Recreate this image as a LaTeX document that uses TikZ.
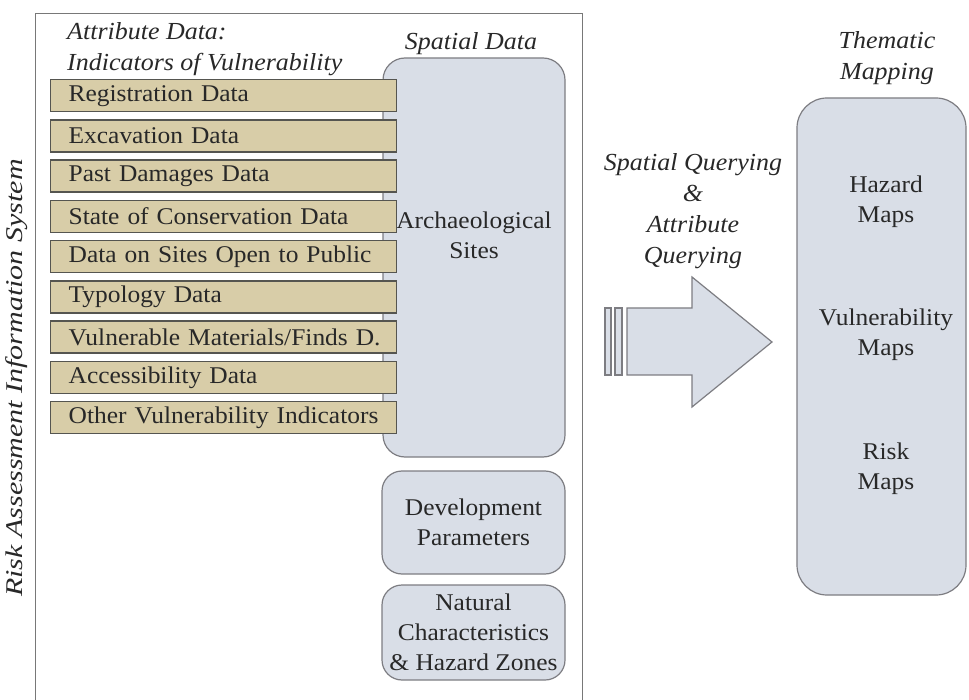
\documentclass[tikz,border=0pt]{standalone}
\usepackage{fontspec}
\setmainfont{Liberation Serif}[FakeStretch=1.06]
\newfontfamily\vertfont{Liberation Serif}[FakeStretch=1.25]
\definecolor{tanfill}{RGB}{216,205,168}
\definecolor{tanline}{RGB}{85,85,80}
\definecolor{bluefill}{RGB}{217,222,231}
\definecolor{blueline}{RGB}{125,125,130}
\definecolor{frameline}{RGB}{120,120,120}
\definecolor{txt}{RGB}{40,40,40}
\tikzset{
  attr/.style={draw=tanline, line width=1.3pt, fill=tanfill, anchor=north west,
    minimum height=32pt, text width=336pt, inner xsep=5pt, inner ysep=0pt,
    align=left, text=txt, font=\fontsize{24}{28}\selectfont},
  spbox/.style={draw=blueline, line width=1.2pt, fill=bluefill, rounded corners=22pt,
    inner sep=0pt},
  lbl/.style={text=txt, align=center, font=\fontsize{24}{30}\selectfont, inner sep=0pt},
  ilbl/.style={text=txt, align=center, font=\itshape\fontsize{24.5}{31}\selectfont, inner sep=0pt},
}
\begin{document}
\begin{tikzpicture}[x=1pt,y=-1pt]
\useasboundingbox (0,0) rectangle (969,700);
\begin{scope}
\clip (0,0) rectangle (969,700);
\node[draw=frameline, line width=1.2pt, minimum width=547pt, minimum height=700pt, anchor=north west, inner sep=0pt] (frame) at (35,13) {};
\end{scope}
\node[text=txt, inner sep=0pt, font=\vertfont\itshape\fontsize{24}{30}\selectfont, rotate=90] (ris) at (17,378) {Risk Assessment Information System};
\node[ilbl, align=left, anchor=north west] (attrtitle) at (67,22) {Attribute Data:\\Indicators of Vulnerability};
\node[ilbl] (spt) at (471,44) {Spatial Data};
% spatial boxes
\node[spbox, minimum width=182pt, minimum height=399pt] (arch) at (474,257.5) {};
\node[lbl] (archt) at (474,235) {Archaeological\\Sites};
\node[spbox, rounded corners=20pt, minimum width=183pt, minimum height=103pt, lbl] (dev) at (473.5,522.5) {Development\\Parameters};
\node[spbox, rounded corners=20pt, minimum width=183pt, minimum height=95pt, lbl] (nat) at (473.5,632.5) {Natural\\Characteristics\\\& Hazard Zones};
% attribute rows
\foreach \t [count=\i from 0] in {Registration Data, Excavation Data, Past Damages Data, State of Conservation Data, Data on Sites\ Open to Public, Typology\ Data, Vulnerable Materials/Finds D., Accessibility\ Data, Other Vulnerability\ Indicators}{
  \node[attr] (a\i) at (50,{79+40.25*\i}) {\hspace*{13pt}\mbox{\t}};
}
% arrow
\fill[bluefill] (627,308) -- (692,308) -- (692,277) -- (772,342) -- (692,407) -- (692,375) -- (627,375) -- cycle;
\draw[blueline, line width=1.2pt, line join=miter] (627,308) -- (692,308) -- (692,277) -- (772,342) -- (692,407) -- (692,375) -- (627,375) -- cycle;
\draw[blueline, line width=1.2pt, fill=bluefill] (605,308) rectangle (611,375);
\draw[blueline, line width=1.2pt, fill=bluefill] (615,308) rectangle (622,375);
\node[ilbl] (query) at (693,211) {Spatial Querying\\\&\\Attribute\\Querying};
% thematic
\node[ilbl] (them) at (887,58) {Thematic\\Mapping};
\node[spbox, rounded corners=30pt, minimum width=169pt, minimum height=497pt] (thm) at (881.5,346.5) {};
\node[lbl] (haz) at (886,202) {Hazard\\Maps};
\node[lbl] (vul) at (886,335) {Vulnerability\\Maps};
\node[lbl] (risk) at (886,469) {Risk\\Maps};
\end{tikzpicture}
\end{document}
